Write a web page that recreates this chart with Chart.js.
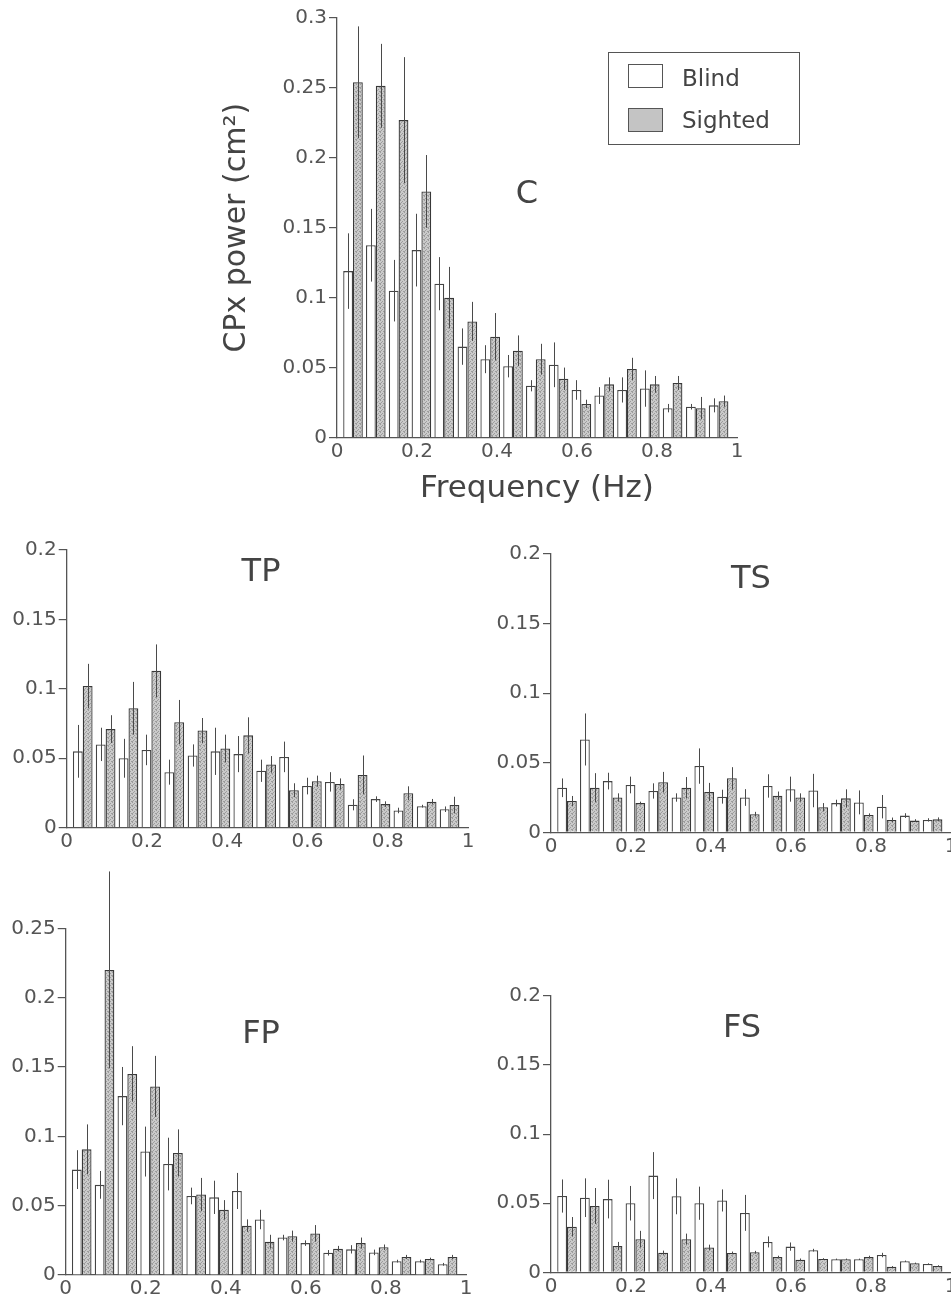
<!DOCTYPE html>
<html>
<head>
<meta charset="utf-8">
<script src="https://cdn.jsdelivr.net/npm/chart.js@4.4.1/dist/chart.umd.min.js"></script>
<style>
  html, body { margin: 0; padding: 0; background: #fff; }
  body { width: 951px; height: 1300px; overflow: hidden; position: relative; font-family: 'DejaVu Sans', sans-serif; color: #444; }
  canvas { position: absolute; }
  .plab { position: absolute; font-size: 32px; line-height: 1; transform: translate(-50%, -50%); color: #444; white-space: nowrap; }
  #legend { position: absolute; left: 608px; top: 52px; width: 192px; height: 93px; box-sizing: border-box; border: 1.5px solid #555; }
  .sw { position: absolute; left: 19px; width: 35px; height: 24px; box-sizing: border-box; border: 1.5px solid #555; }
  .lt { position: absolute; left: 73px; font-size: 23px; line-height: 1; transform: translateY(-50%); color: #444; }
</style>
</head>
<body>
<canvas id="cC" width="560" height="520" style="left:200px;top:0px"></canvas>
<canvas id="cTP" width="490" height="330" style="left:0px;top:530px"></canvas>
<canvas id="cTS" width="480" height="330" style="left:480px;top:530px"></canvas>
<canvas id="cFP" width="490" height="440" style="left:0px;top:860px"></canvas>
<canvas id="cFS" width="480" height="340" style="left:480px;top:960px"></canvas>
<div class="plab" id="lC" style="left:527px;top:192px"></div>
<div class="plab" id="lTP" style="left:261px;top:570px"></div>
<div class="plab" id="lTS" style="left:751px;top:577px"></div>
<div class="plab" id="lFP" style="left:261px;top:1032px"></div>
<div class="plab" id="lFS" style="left:742px;top:1026px"></div>
<div id="legend">
  <div class="sw" style="top:11px;background:#fff"></div>
  <div class="lt" id="lg0" style="top:25px"></div>
  <div class="sw" style="top:55px;background:#c4c4c4"></div>
  <div class="lt" id="lg1" style="top:67px"></div>
</div>
<script>
// ---------- data ----------
const freqs = [0.040, 0.097, 0.154, 0.211, 0.268, 0.326, 0.383, 0.440, 0.497, 0.554, 0.611, 0.668, 0.725, 0.782, 0.839, 0.897, 0.954];
const seriesLabels = ['Blind', 'Sighted'];
const panelNames = ['C', 'TP', 'TS', 'FP', 'FS'];
const xTickLabels = ['0', '0.2', '0.4', '0.6', '0.8', '1'];
const yTicksC = ['0', '0.05', '0.1', '0.15', '0.2', '0.25', '0.3'];
const yTicksLow = ['0', '0.05', '0.1', '0.15', '0.2'];
const yTicksFP = ['0', '0.05', '0.1', '0.15', '0.2', '0.25'];
const xTitleText = 'Frequency (Hz)';
const yTitleText = 'CPx power (cm\u00B2)';

const cBlind      = [0.119, 0.1375, 0.105, 0.134, 0.110, 0.065, 0.056, 0.051, 0.037, 0.052, 0.034, 0.030, 0.034, 0.035, 0.021, 0.022, 0.023];
const cBlindErr   = [0.027, 0.026, 0.022, 0.026, 0.019, 0.013, 0.010, 0.008, 0.004, 0.016, 0.007, 0.006, 0.009, 0.013, 0.003, 0.002, 0.005];
const cSighted    = [0.254, 0.2515, 0.227, 0.176, 0.100, 0.083, 0.072, 0.062, 0.056, 0.042, 0.024, 0.038, 0.049, 0.038, 0.039, 0.021, 0.026];
const cSightedErr = [0.040, 0.030, 0.045, 0.026, 0.022, 0.014, 0.017, 0.011, 0.011, 0.008, 0.003, 0.005, 0.008, 0.006, 0.005, 0.008, 0.004];

const tpBlind      = [0.055, 0.060, 0.050, 0.056, 0.040, 0.052, 0.055, 0.053, 0.041, 0.051, 0.030, 0.033, 0.0165, 0.0206, 0.0124, 0.0155, 0.0133];
const tpBlindErr   = [0.019, 0.012, 0.014, 0.011, 0.009, 0.008, 0.017, 0.013, 0.008, 0.011, 0.006, 0.007, 0.004, 0.002, 0.002, 0.001, 0.002];
const tpSighted    = [0.102, 0.071, 0.086, 0.113, 0.076, 0.070, 0.057, 0.0665, 0.0456, 0.027, 0.0335, 0.0315, 0.038, 0.017, 0.0248, 0.0187, 0.0163];
const tpSightedErr = [0.016, 0.010, 0.019, 0.019, 0.016, 0.009, 0.010, 0.013, 0.006, 0.005, 0.004, 0.004, 0.014, 0.002, 0.005, 0.002, 0.006];

const tsBlind      = [0.032, 0.0667, 0.0368, 0.034, 0.0297, 0.025, 0.0476, 0.0256, 0.025, 0.0333, 0.031, 0.030, 0.021, 0.0215, 0.0184, 0.012, 0.0089];
const tsBlindErr   = [0.0067, 0.0187, 0.006, 0.006, 0.0055, 0.003, 0.0127, 0.005, 0.006, 0.0084, 0.009, 0.012, 0.0024, 0.0086, 0.0084, 0.0017, 0.0012];
const tsSighted    = [0.0225, 0.032, 0.025, 0.021, 0.036, 0.032, 0.029, 0.0388, 0.013, 0.0263, 0.025, 0.018, 0.0244, 0.0124, 0.0089, 0.0084, 0.0093];
const tsSightedErr = [0.0036, 0.0105, 0.003, 0.001, 0.0074, 0.0077, 0.0065, 0.008, 0.0017, 0.003, 0.003, 0.003, 0.0065, 0.0012, 0.0017, 0.001, 0.0014];

const fpBlind      = [0.076, 0.065, 0.129, 0.089, 0.080, 0.057, 0.056, 0.0606, 0.040, 0.027, 0.023, 0.016, 0.0185, 0.0163, 0.010, 0.010, 0.0077];
const fpBlindErr   = [0.014, 0.010, 0.021, 0.018, 0.019, 0.006, 0.012, 0.013, 0.007, 0.002, 0.002, 0.002, 0.003, 0.002, 0.001, 0.001, 0.001];
const fpSighted    = [0.0906, 0.220, 0.145, 0.136, 0.088, 0.058, 0.047, 0.0356, 0.024, 0.028, 0.030, 0.019, 0.023, 0.020, 0.013, 0.0115, 0.013];
const fpSightedErr = [0.018, 0.071, 0.020, 0.022, 0.017, 0.012, 0.007, 0.0045, 0.005, 0.004, 0.006, 0.002, 0.004, 0.002, 0.0015, 0.001, 0.0015];

const fsBlind      = [0.0552, 0.054, 0.053, 0.050, 0.070, 0.055, 0.050, 0.052, 0.043, 0.022, 0.0186, 0.016, 0.0094, 0.0094, 0.0125, 0.008, 0.006];
const fsBlindErr   = [0.012, 0.014, 0.014, 0.0125, 0.017, 0.013, 0.012, 0.008, 0.013, 0.004, 0.003, 0.001, 0.0005, 0.0005, 0.0016, 0.0005, 0.0005];
const fsSighted    = [0.033, 0.048, 0.019, 0.024, 0.0142, 0.024, 0.018, 0.014, 0.0145, 0.011, 0.009, 0.0097, 0.0094, 0.011, 0.004, 0.0065, 0.0046];
const fsSightedErr = [0.007, 0.013, 0.003, 0.006, 0.0015, 0.004, 0.002, 0.001, 0.001, 0.001, 0.001, 0.0005, 0.0005, 0.001, 0.0005, 0.0005, 0.0005];

// ---------- styling ----------
Chart.defaults.font.family = "'DejaVu Sans', sans-serif";
Chart.defaults.color = '#444';

function makeStipple() {
  const c = document.createElement('canvas');
  c.width = 4; c.height = 4;
  const g = c.getContext('2d');
  g.fillStyle = '#cacaca'; g.fillRect(0, 0, 4, 4);
  g.fillStyle = '#9c9c9c';
  [[0,0],[2,1],[1,2],[3,3],[0,3]].forEach(p => g.fillRect(p[0], p[1], 1, 1));
  return g.createPattern(c, 'repeat');
}
const stipple = makeStipple();

const errorBarPlugin = {
  id: 'errorBars',
  afterDatasetsDraw(chart) {
    const ctx = chart.ctx, ys = chart.scales.y;
    ctx.save();
    ctx.strokeStyle = '#4a4a4a';
    ctx.lineWidth = 1;
    chart.data.datasets.forEach((ds, d) => {
      const meta = chart.getDatasetMeta(d);
      meta.data.forEach((bar, i) => {
        const v = ds.data[i].y, e = ds.errors[i];
        const x = Math.round(bar.x) + 0.5;
        ctx.beginPath();
        ctx.moveTo(x, ys.getPixelForValue(v - e));
        ctx.lineTo(x, ys.getPixelForValue(v + e));
        ctx.stroke();
      });
    });
    ctx.restore();
  }
};

function makePanel(o) {
  const yVals = o.yTicks.map(Number);
  return new Chart(document.getElementById(o.id), {
    type: 'bar',
    data: {
      datasets: [
        { label: seriesLabels[0], data: freqs.map((f, i) => ({ x: f, y: o.blind[i] })), errors: o.blindErr,
          backgroundColor: '#ffffff', borderColor: '#444', borderWidth: 1.3 },
        { label: seriesLabels[1], data: freqs.map((f, i) => ({ x: f, y: o.sighted[i] })), errors: o.sightedErr,
          backgroundColor: stipple, borderColor: '#383838', borderWidth: 1.3 }
      ]
    },
    options: {
      responsive: false, animation: false, events: [],
      categoryPercentage: 0.86, barPercentage: 1.0,
      layout: { padding: o.padding },
      plugins: { legend: { display: false }, tooltip: { enabled: false } },
      scales: {
        x: {
          type: 'linear', min: 0, max: 1, offset: false,
          grid: { display: false, drawTicks: false, offset: false },
          border: { display: true, color: '#555', width: 1.3 },
          afterBuildTicks: s => { s.ticks = xTickLabels.map(t => ({ value: Number(t) })); },
          ticks: { callback: (v, i) => xTickLabels[i], maxRotation: 0, minRotation: 0, autoSkip: false, padding: 2, font: { size: 20 }, color: '#555' },
          afterFit: s => { s.height = o.xHeight; },
          title: o.xTitle ? { display: true, text: xTitleText, font: { size: 31 }, color: '#444', padding: { top: 0, bottom: 12 } } : { display: false }
        },
        y: {
          min: 0, max: yVals[yVals.length - 1],
          grid: { display: true, drawOnChartArea: false, drawTicks: true, tickLength: 8, color: '#555', lineWidth: 1.2 },
          border: { display: true, color: '#555', width: 1.3 },
          afterBuildTicks: s => { s.ticks = yVals.map(v => ({ value: v })); },
          ticks: { callback: (v, i) => o.yTicks[i], padding: 2, font: { size: 20 }, color: '#555', autoSkip: false },
          afterFit: s => { s.width = o.yWidth; },
          title: o.yTitle ? { display: true, text: yTitleText, font: { size: 30 }, color: '#444', padding: { top: 19, bottom: 0 } } : { display: false }
        }
      }
    },
    plugins: [errorBarPlugin]
  });
}

makePanel({ id: 'cC', blind: cBlind, blindErr: cBlindErr, sighted: cSighted, sightedErr: cSightedErr,
  yTicks: yTicksC, yWidth: 137, xHeight: 82.5, padding: { top: 18, right: 23, bottom: 0, left: 0 }, xTitle: true, yTitle: true });
makePanel({ id: 'cTP', blind: tpBlind, blindErr: tpBlindErr, sighted: tpSighted, sightedErr: tpSightedErr,
  yTicks: yTicksLow, yWidth: 66.7, xHeight: 32.3, padding: { top: 20, right: 22, bottom: 0, left: 0 } });
makePanel({ id: 'cTS', blind: tsBlind, blindErr: tsBlindErr, sighted: tsSighted, sightedErr: tsSightedErr,
  yTicks: yTicksLow, yWidth: 71, xHeight: 27.7, padding: { top: 24, right: 9, bottom: 0, left: 0 } });
makePanel({ id: 'cFP', blind: fpBlind, blindErr: fpBlindErr, sighted: fpSighted, sightedErr: fpSightedErr,
  yTicks: yTicksFP, yWidth: 65.7, xHeight: 25, padding: { top: 68.3, right: 24, bottom: 0, left: 0 } });
makePanel({ id: 'cFS', blind: fsBlind, blindErr: fsBlindErr, sighted: fsSighted, sightedErr: fsSightedErr,
  yTicks: yTicksLow, yWidth: 71, xHeight: 27.7, padding: { top: 36, right: 9, bottom: 0, left: 0 } });

// panel labels and legend text
document.getElementById('lC').textContent = panelNames[0];
document.getElementById('lTP').textContent = panelNames[1];
document.getElementById('lTS').textContent = panelNames[2];
document.getElementById('lFP').textContent = panelNames[3];
document.getElementById('lFS').textContent = panelNames[4];
document.getElementById('lg0').textContent = seriesLabels[0];
document.getElementById('lg1').textContent = seriesLabels[1];
</script>
</body>
</html>
